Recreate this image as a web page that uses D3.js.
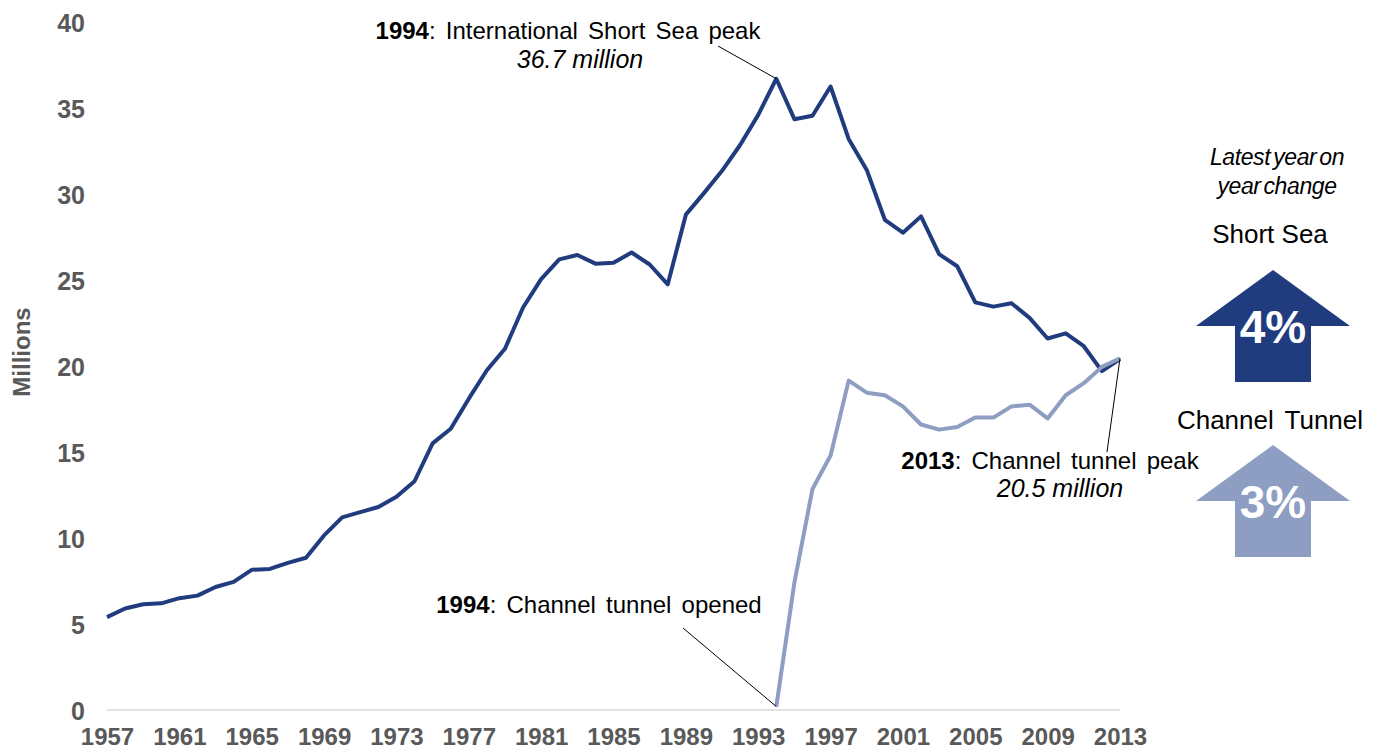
<!DOCTYPE html>
<html><head><meta charset="utf-8">
<script src="https://cdn.jsdelivr.net/npm/d3@7"></script>
<style>body{margin:0;background:#fff}svg{display:block;font-family:"Liberation Sans",Arial,sans-serif}</style>
</head><body><svg id="c" width="1376" height="751"></svg>
<script>
const years = d3.range(1957, 2014);
const shortSea = [5.4,5.9,6.15,6.2,6.5,6.65,7.15,7.45,8.15,8.2,8.55,8.85,10.15,11.2,11.5,11.8,12.4,13.3,15.5,16.35,18.1,19.75,21.0,23.4,25.05,26.2,26.45,25.95,26.0,26.6,25.9,24.75,28.8,30.05,31.35,32.85,34.6,36.7,34.35,34.55,36.25,33.2,31.4,28.5,27.75,28.7,26.5,25.8,23.7,23.45,23.65,22.8,21.6,21.9,21.15,19.7,20.4];
const tunnelYears = d3.range(1994, 2014);
const tunnel = [0.2,7.4,12.85,14.8,19.15,18.45,18.3,17.65,16.6,16.3,16.45,17.0,17.0,17.65,17.75,16.95,18.3,19.0,19.95,20.45];
const yTicks = [0,5,10,15,20,25,30,35,40];
const xTickYears = [1957,1961,1965,1969,1973,1977,1981,1985,1989,1993,1997,2001,2005,2009,2013];
const changes = [{label:"Short Sea", value:"4%"},{label:"Channel Tunnel", value:"3%"}];

const dark = "#213c7e", light = "#8d9ec2", grey = "#595959";
const FF = "Liberation Sans, Arial, sans-serif";
const svg = d3.select("#c");
const x = d3.scaleLinear().domain([1957, 2013]).range([107, 1120]);
const y = d3.scaleLinear().domain([0, 40]).range([710, 22]);

// baseline
svg.append("line").attr("x1", x(1957)).attr("x2", x(2013)).attr("y1", y(0)).attr("y2", y(0))
  .attr("stroke", "#d9d9d9").attr("stroke-width", 1.5);

// y axis
const yAxis = d3.axisLeft(y).tickValues(yTicks).tickSize(0).tickPadding(0);
const gy = svg.append("g").attr("transform", "translate(85,0)").call(yAxis);
gy.select(".domain").remove();
gy.selectAll("text").attr("fill", grey).attr("font-size", 25).attr("font-weight", "bold")
  .attr("font-family", FF).attr("dy", "0.36em");

// x axis
const xAxis = d3.axisBottom(x).tickValues(xTickYears).tickFormat(d3.format("d")).tickSize(0).tickPadding(0);
const gx = svg.append("g").attr("transform", "translate(0,745)").call(xAxis);
gx.select(".domain").remove();
gx.selectAll("text").attr("fill", grey).attr("font-size", 24).attr("font-weight", "bold")
  .attr("font-family", FF).attr("dy", "0").attr("y", 0);

// y title
svg.append("text").attr("transform", "translate(30,352) rotate(-90)").attr("text-anchor", "middle")
  .attr("fill", grey).attr("font-size", 24).attr("font-weight", "bold").text("Millions");

const line = d3.line().x(d => x(d[0])).y(d => y(d[1]));
svg.append("path").datum(years.map((yr, i) => [yr, shortSea[i]])).attr("d", line)
  .attr("fill", "none").attr("stroke", dark).attr("stroke-width", 4).attr("stroke-linejoin", "round");
svg.append("path").datum(tunnelYears.map((yr, i) => [yr, tunnel[i]])).attr("d", line)
  .attr("fill", "none").attr("stroke", light).attr("stroke-width", 4).attr("stroke-linejoin", "round");

// annotations
function annot(cx, by, bold, rest, italic) {
  const t = svg.append("text").attr("x", cx).attr("y", by).attr("text-anchor", "middle")
    .attr("font-size", 24).attr("word-spacing", 3.5).attr("fill", "#000");
  t.append("tspan").attr("font-weight", "bold").text(bold);
  t.append("tspan").text(rest);
  if (italic) svg.append("text").attr("x", italic[0]).attr("y", italic[1]).attr("text-anchor", "middle")
    .attr("font-size", 25).attr("font-style", "italic").text(italic[2]);
}
annot(568, 39, "1994", ": International Short Sea peak", [580, 68, "36.7 million"]);
svg.append("line").attr("x1", 718).attr("y1", 46).attr("x2", x(1994)).attr("y2", y(36.7)).attr("stroke", "#000").attr("stroke-width", 1);
annot(599, 613, "1994", ": Channel tunnel opened");
svg.append("line").attr("x1", 683).attr("y1", 628).attr("x2", x(1994)).attr("y2", y(0.2)).attr("stroke", "#000").attr("stroke-width", 1);
annot(1050, 469, "2013", ": Channel tunnel peak", [1060, 497, "20.5 million"]);
svg.append("line").attr("x1", 1107).attr("y1", 452).attr("x2", x(2013)).attr("y2", y(20.45)).attr("stroke", "#000").attr("stroke-width", 1);

// side panel
svg.append("text").attr("x", 1277).attr("y", 165).attr("text-anchor", "middle").attr("font-size", 23)
  .attr("font-style", "italic").attr("letter-spacing", -0.4).attr("word-spacing", -3).text("Latest year on");
svg.append("text").attr("x", 1277).attr("y", 194).attr("text-anchor", "middle").attr("font-size", 23)
  .attr("font-style", "italic").attr("letter-spacing", -0.4).attr("word-spacing", -3).text("year change");

const arrowTops = [270, 445];
const labelY = [243, 429];
const fills = [dark, light];
changes.forEach((c, i) => {
  const cx = 1273, top = arrowTops[i];
  svg.append("text").attr("x", 1270).attr("y", labelY[i]).attr("text-anchor", "middle").attr("font-size", 26)
    .attr("word-spacing", i === 1 ? 4 : 0).text(c.label);
  const pts = [[cx, top], [cx + 77, top + 56], [cx + 38, top + 56], [cx + 38, top + 112], [cx - 38, top + 112], [cx - 38, top + 56], [cx - 77, top + 56]];
  svg.append("path").attr("d", d3.line()(pts) + "Z").attr("fill", fills[i]);
  svg.append("text").attr("x", cx).attr("y", top + 73).attr("text-anchor", "middle").attr("font-size", 46)
    .attr("font-weight", "bold").attr("fill", "#fff").text(c.value);
});
</script></body></html>
